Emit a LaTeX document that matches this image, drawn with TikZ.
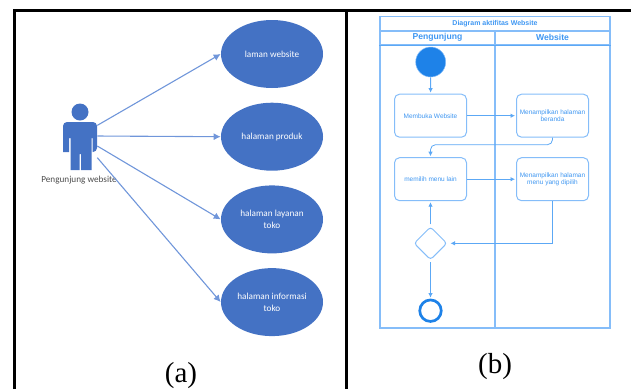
\documentclass[tikz,border=0pt]{standalone}
\usepackage{fontspec}
\setmainfont{Liberation Serif}
\newfontfamily\usecasefont{Carlito}
\newfontfamily\lanefont{Liberation Sans}
\usepackage{tikz}
\usetikzlibrary{arrows.meta,shapes.geometric}
\definecolor{ucblue}{HTML}{4472C4}
\definecolor{ucline}{HTML}{7096DA}
\definecolor{lanetext}{HTML}{3F97F2}
\definecolor{laneline}{HTML}{85BDF9}
\definecolor{lanedark}{HTML}{5CA8F5}
\definecolor{startblue}{HTML}{1E82E8}
\begin{document}
\begin{tikzpicture}[x=1pt,y=-1pt,semithick,node distance=82.7pt]
  \tikzstyle{usecase}=[ellipse,fill=ucblue,text=white,minimum width=102pt,minimum height=68pt,inner sep=0pt,align=center,font=\usecasefont\fontsize{9.2}{12}\selectfont]
  \tikzstyle{lanehead}=[rectangle,draw=laneline,line width=1.2pt,inner sep=0pt,text=lanetext,font=\lanefont\bfseries\fontsize{8.6}{11}\selectfont]
  \tikzstyle{lanebody}=[rectangle,draw=laneline,line width=1.2pt,inner sep=0pt,minimum width=115pt,minimum height=283.5pt]
  \tikzstyle{action}=[rectangle,rounded corners=5pt,draw=laneline,fill=white,line width=1pt,minimum width=72pt,minimum height=43pt,inner sep=0pt,align=center,text=lanetext,font=\lanefont\fontsize{6.5}{7}\selectfont]
  \tikzstyle{assoc}=[-{Latex[length=7pt,width=7pt]},draw=ucline,line width=1.1pt]
  \tikzstyle{flow}=[-{Latex[length=4.5pt,width=4.5pt]},draw=lanedark,line width=0.8pt,shorten >=1pt]
  \tikzstyle{caption}=[font=\fontsize{29}{30}\selectfont,inner sep=0pt]

  \useasboundingbox (0,0) rectangle (631,389);

  %frame
  \draw[line width=2.3pt] (14.5,389) -- (14.5,10.5) -- (631,10.5);
  \draw[line width=2.3pt] (346.5,10.5) -- (346.5,389);

  %use case side
  \node[usecase] (LW) at (272,54)   {laman website};
  \node[usecase] (HP) [below of=LW] {halaman produk};
  \node[usecase] (HL) [below of=HP] {halaman layanan\\toko};
  \node[usecase] (HI) [below of=HL] {halaman informasi\\toko};

  \node[rectangle,minimum width=34pt,minimum height=48pt,inner sep=0pt] (actor) at (80,146) {};
  \node[circle,fill=ucblue,minimum size=17pt,inner sep=0pt] (head) at (80,112) {};
  \fill[ucblue,rounded corners=4pt] (63,152) -- (63,122) -- (97,122) -- (97,152) [sharp corners] -- (92.5,152) -- (92.5,138) -- (91.5,138) -- (91.5,170) -- (81,170) -- (81,154) -- (79.5,154) -- (79.5,170) -- (70.5,170) -- (70.5,138) -- (69,138) -- (69,152) -- cycle;
  \node[text=black!70,inner sep=0pt,font=\usecasefont\fontsize{9.2}{10}\selectfont] (actorlabel) at (79,180) {Pengunjung website};

  \path
(actor.50) edge [assoc] (LW.west)
(actor.30) edge [assoc] (HP.west)
(actor.0) edge [assoc] (HL.west)
(actor.-34) edge [assoc] (HI.west);

  %activity side
  \node[lanehead,minimum width=230pt,minimum height=14.5pt,font=\lanefont\bfseries\fontsize{7}{8}\selectfont] (title) at (495,23.75) {Diagram aktifitas Website};
  \node[lanehead,minimum width=115pt,minimum height=13.5pt] (LP) at (437.5,37.75) {Pengunjung};
  \node[lanehead,minimum width=115pt,minimum height=13.5pt] (LS) at (552.5,37.75) {Website};
  \node[lanebody] (BP) at (437.5,186.25) {};
  \node[lanebody] (BS) at (552.5,186.25) {};
  \draw[draw=lanedark,line width=0.8pt] (LP.south west) -- (LS.south east);

  \node[circle,fill=startblue,draw=laneline,line width=0.5pt,minimum size=30pt,inner sep=0pt] (start) at (430.7,62) {};
  \node[action] (open) at (430.5,115.7) {Membuka Website};
  \node[action] (home) at (552.5,115.7) {Menampilkan halaman\\beranda};
  \node[action] (menu) at (430.5,179.2) {memilih menu lain};
  \node[action] (show) at (552.5,179.2) {Menampilkan halaman\\menu yang dipilih};
  \node[diamond,rounded corners=3pt,draw=laneline,fill=white,line width=1pt,minimum size=33pt,inner sep=0pt] (choice) at (430.5,243.3) {};
  \node[circle,draw=startblue,line width=2.7pt,fill=white,minimum size=21.5pt,inner sep=0pt] (end) at (430.5,310.7) {};

  \path
(start) edge [flow] (open)
(open) edge [flow] (home)
(menu) edge [flow] (show)
(choice.north) edge [flow,shorten <=2pt] (menu.south)
(choice.south) edge [flow,shorten <=2pt] (end.north);
  \draw[flow,rounded corners=5pt] (home.south) -- +(0,7) -| (menu.north);
  \draw[flow,shorten >=3pt] (show.south) |- (choice.east);

  \node[caption] (capa) at (181,376) {(a)};
  \node[caption] (capb) at (495,367) {(b)};
\end{tikzpicture}
\end{document}
